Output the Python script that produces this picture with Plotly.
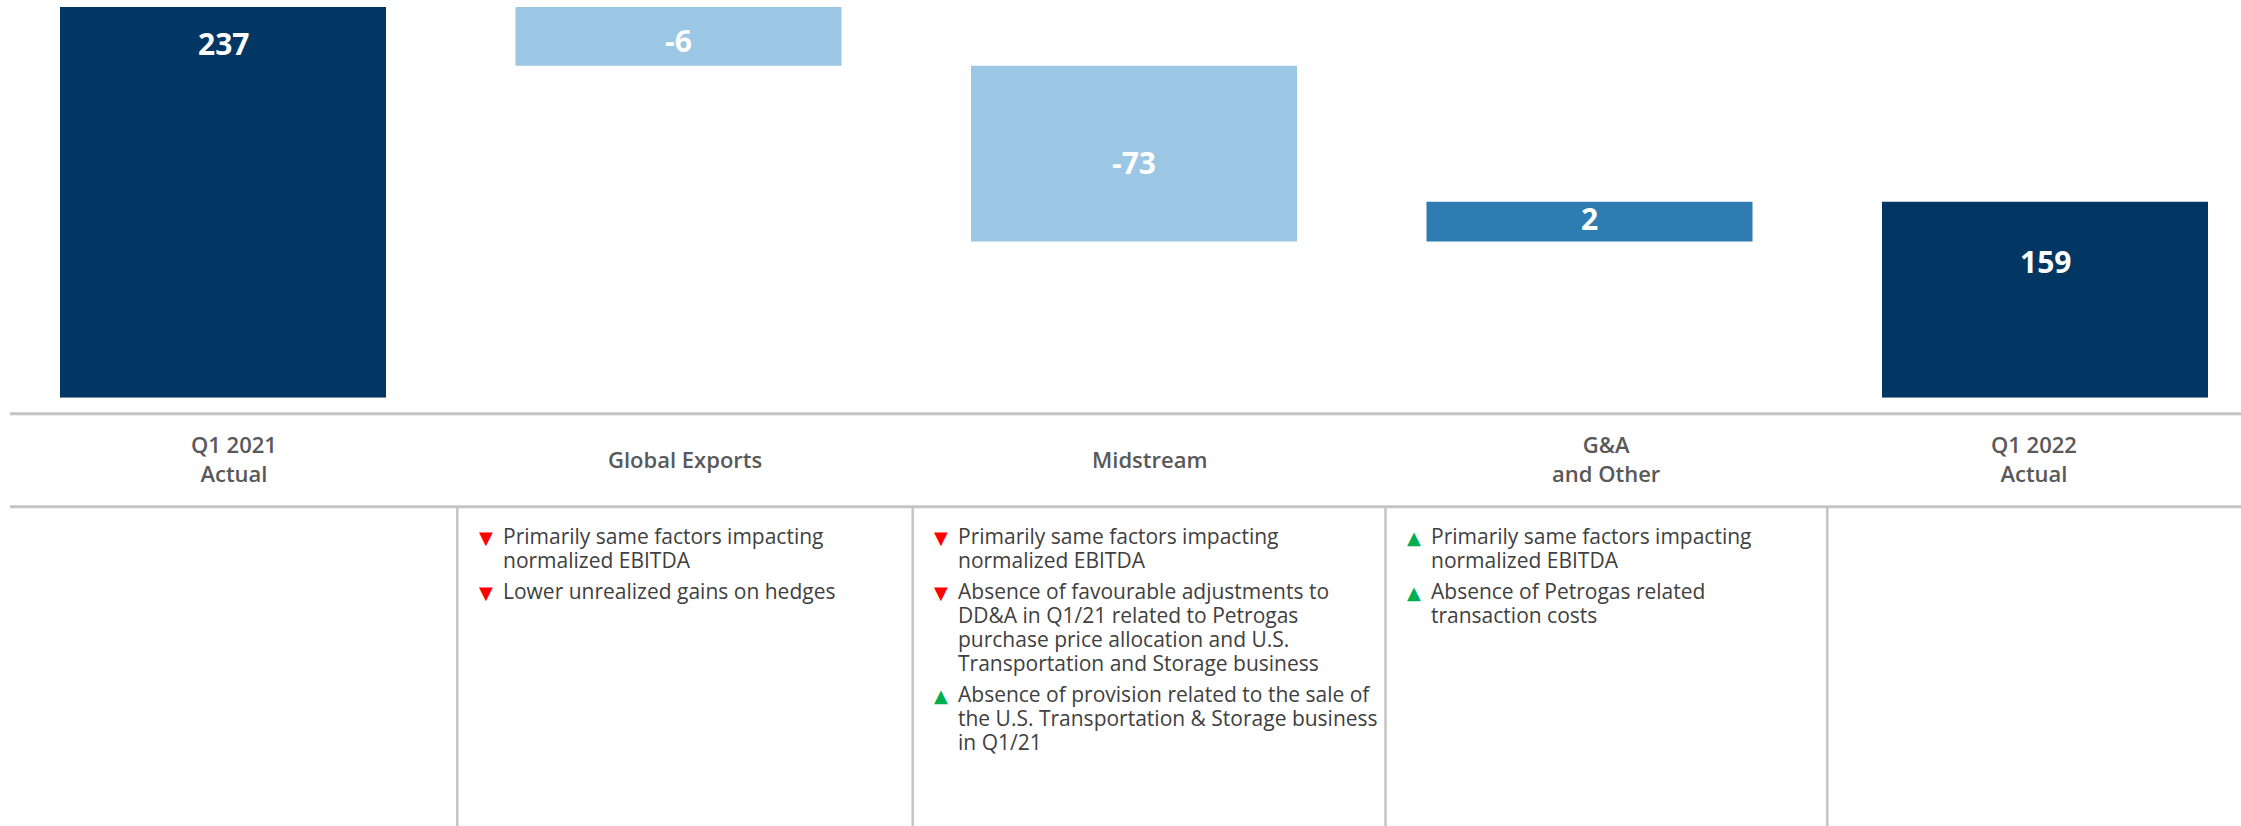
import plotly.graph_objects as go

# ---------------- data ----------------
categories = ["Q1 2021 Actual", "Global Exports", "Midstream", "G&A and Other", "Q1 2022 Actual"]
header_labels = ["Q1 2021<br>Actual", "Global Exports", "Midstream", "G&A<br>and Other", "Q1 2022<br>Actual"]
measures = ["absolute", "relative", "relative", "relative", "total"]
value_labels = ["237", "-6", "-73", "2", "159"]
# bar extents as drawn in the reference (the slide is not drawn to scale),
# read off the picture in units where the first bar = 237
bar_drawn_heights = [237, -35.6, -106.6, 24.1, 0]

bullet_dirs = [
    [],
    ["down", "down"],
    ["down", "down", "up"],
    ["up", "up"],
    [],
]
bullet_texts = [
    [],
    [["Primarily same factors impacting", "normalized EBITDA"],
     ["Lower unrealized gains on hedges"]],
    [["Primarily same factors impacting", "normalized EBITDA"],
     ["Absence of favourable adjustments to", "DD&A in Q1/21 related to Petrogas",
      "purchase price allocation and U.S.", "Transportation and Storage business"],
     ["Absence of provision related to the sale of", "the U.S. Transportation & Storage business",
      "in Q1/21"]],
    [["Primarily same factors impacting", "normalized EBITDA"],
     ["Absence of Petrogas related", "transaction costs"]],
    [],
]

# ---------------- style / layout ----------------
W, H = 2241, 826
NAVY = "#023763"
LIGHT = "#9BC6E4"
MID = "#2E7CB2"
GRID = "#C4C4C4"
HEAD_COL = "#595959"
BODY_COL = "#404040"
RED = "#FF0000"
GREEN = "#00B050"

def px_x(x):
    return x / W

def px_y(y):
    return 1 - y / H

# plot region geometry (pixels)
bar_base_px = 397.7
bar_top_px = 7.0
first_center_px = 223.0
cat_step_px = 455.5
bar_width_frac = 326.0 / 455.5
units_per_px = bar_drawn_heights[0] / (bar_base_px - bar_top_px)

y_range_max = bar_base_px * units_per_px
x_lo = -first_center_px / cat_step_px
x_hi = (W - first_center_px) / cat_step_px

fig = go.Figure()
fig.add_trace(go.Waterfall(
    x=categories,
    y=bar_drawn_heights,
    measure=measures,
    width=[bar_width_frac] * len(categories),
    connector=dict(visible=False),
    increasing=dict(marker=dict(color=MID, line=dict(width=0))),
    decreasing=dict(marker=dict(color=LIGHT, line=dict(width=0))),
    totals=dict(marker=dict(color=NAVY, line=dict(width=0))),
    textinfo="none",
    hoverinfo="skip",
    showlegend=False,
))

annotations = []
shapes = []

# value labels on bars
label_nudge_px = [-36, -4, -9, 3, -60]
running = 0.0
for i, (m, h) in enumerate(zip(measures, bar_drawn_heights)):
    if m == "absolute":
        lo, hi = 0.0, h
        running = h
        y = hi
    elif m == "total":
        lo, hi = 0.0, running
        y = hi
    else:
        lo, hi = sorted([running, running + h])
        running += h
        y = (lo + hi) / 2
    annotations.append(dict(
        x=categories[i], y=y, xref="x", yref="y",
        text=value_labels[i], showarrow=False,
        xanchor="center", yanchor="middle", yshift=label_nudge_px[i],
        font=dict(family="Open Sans", size=30, color="white", weight=700),
    ))

# table lines
row1_px, row2_px = 413.7, 506.7
col_edges_px = [10.0, 457.3, 912.7, 1385.5, 1827.3, W]
for yy in (row1_px, row2_px):
    shapes.append(dict(type="line", xref="paper", yref="paper",
                       x0=px_x(col_edges_px[0]), x1=1, y0=px_y(yy), y1=px_y(yy),
                       line=dict(color=GRID, width=3)))
for xx in col_edges_px[1:-1]:
    shapes.append(dict(type="line", xref="paper", yref="paper",
                       x0=px_x(xx), x1=px_x(xx), y0=px_y(row2_px), y1=0,
                       line=dict(color=GRID, width=2.5)))

# header labels (centred in table columns)
head_base_px = 467.3
head_size = 22
for i, lab in enumerate(header_labels):
    cx = (col_edges_px[i] + col_edges_px[i + 1]) / 2
    annotations.append(dict(
        x=px_x(cx), y=px_y(head_base_px - 0.388 * head_size), xref="paper", yref="paper",
        text=lab, showarrow=False, xanchor="center", yanchor="middle", align="center",
        font=dict(family="Open Sans", size=head_size, color=HEAD_COL, weight=600),
    ))

# bullets
body_size = 21
first_base_px = 544.3
line_step_px = 23.8
bullet_gap_px = 31.5
for c in range(len(categories)):
    base = first_base_px
    left = col_edges_px[c]
    for d, lines in zip(bullet_dirs[c], bullet_texts[c]):
        annotations.append(dict(
            x=px_x(left + 28.5), y=px_y(base - 7.3), xref="paper", yref="paper",
            text="▼" if d == "down" else "▲", showarrow=False,
            xanchor="center", yanchor="middle",
            font=dict(family="DejaVu Sans", size=18, color=RED if d == "down" else GREEN),
        ))
        for k, ln in enumerate(lines):
            annotations.append(dict(
                x=px_x(left + 43.5), y=px_y(base - 0.388 * body_size), xref="paper", yref="paper",
                text=ln, showarrow=False, xanchor="left", yanchor="middle",
                font=dict(family="Open Sans", size=body_size, color=BODY_COL),
            ))
            if k < len(lines) - 1:
                base += line_step_px
        base += bullet_gap_px

fig.update_layout(
    width=W, height=H,
    margin=dict(l=0, r=0, t=0, b=0, pad=0),
    paper_bgcolor="white", plot_bgcolor="white",
    xaxis=dict(range=[x_lo, x_hi], showticklabels=False, showgrid=False,
               zeroline=False, showline=False, ticks="", fixedrange=True),
    yaxis=dict(domain=[px_y(bar_base_px), 1], range=[0, y_range_max],
               showticklabels=False, showgrid=False, zeroline=False,
               showline=False, ticks="", fixedrange=True),
    annotations=annotations,
    shapes=shapes,
    showlegend=False,
)

fig.write_html("out.html", post_script="document.body.style.margin='0';",
               config={"displayModeBar": False})
